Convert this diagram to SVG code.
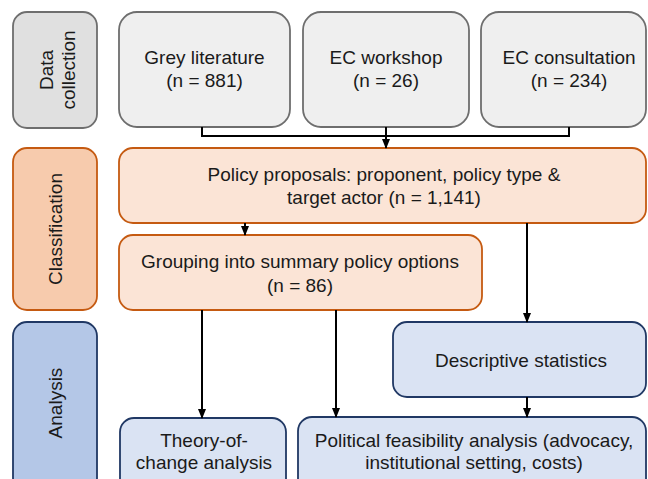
<svg xmlns="http://www.w3.org/2000/svg" width="648" height="479" viewBox="0 0 648 479">
  <style>
    text { font-family: "Liberation Sans", Arial, sans-serif; font-size: 19px; fill: #1a1a1a; text-anchor: middle; }
    .grey { fill: #efefef; stroke: #6e6e6e; stroke-width: 1.8; }
    .grey-side { fill: #e0e0e0; stroke: #6e6e6e; stroke-width: 1.8; }
    .orange { fill: #fbe4d6; stroke: #c55a11; stroke-width: 1.8; }
    .orange-side { fill: #f7cbad; stroke: #c55a11; stroke-width: 1.8; }
    .blue { fill: #dae3f3; stroke: #203864; stroke-width: 1.8; }
    .blue-side { fill: #b4c7e7; stroke: #203864; stroke-width: 1.8; }
    .conn { fill: none; stroke: #000; stroke-width: 2; }
  </style>
  <defs>
    <marker id="arrow" markerWidth="10" markerHeight="8" refX="9" refY="4" orient="auto" markerUnits="userSpaceOnUse">
      <path d="M0,0 L10,4 L0,8 Z" fill="#000"/>
    </marker>
  </defs>

  <!-- stage labels -->
  <g id="stage-data-collection">
    <rect class="grey-side" x="13" y="12" width="84" height="116" rx="14"/>
    <text transform="translate(53,70) rotate(-90)">Data</text>
    <text transform="translate(75,70) rotate(-90)">collection</text>
  </g>
  <g id="stage-classification">
    <rect class="orange-side" x="13" y="148" width="84" height="162" rx="14"/>
    <text transform="translate(62,229) rotate(-90)">Classification</text>
  </g>
  <g id="stage-analysis">
    <rect class="blue-side" x="13" y="322" width="84" height="170" rx="14"/>
    <text transform="translate(62,403) rotate(-90)">Analysis</text>
  </g>

  <!-- data sources -->
  <g id="grey-literature">
    <rect class="grey" x="119" y="12" width="171" height="115" rx="18"/>
    <text x="204.5" y="64">Grey literature</text>
    <text x="204.5" y="87">(n = 881)</text>
  </g>
  <g id="ec-workshop">
    <rect class="grey" x="303" y="12" width="166" height="115" rx="18"/>
    <text x="386" y="64">EC workshop</text>
    <text x="386" y="87">(n = 26)</text>
  </g>
  <g id="ec-consultation">
    <rect class="grey" x="481" y="12" width="165" height="115" rx="18"/>
    <text x="569" y="64">EC consultation</text>
    <text x="569" y="87">(n = 234)</text>
  </g>

  <!-- classification -->
  <g id="policy-proposals">
    <rect class="orange" x="119" y="148" width="527" height="75" rx="14"/>
    <text x="384" y="181">Policy proposals: proponent, policy type &amp;</text>
    <text x="384" y="204">target actor (n = 1,141)</text>
  </g>
  <g id="grouping">
    <rect class="orange" x="119" y="235" width="363" height="75" rx="14"/>
    <text x="300" y="268">Grouping into summary policy options</text>
    <text x="300" y="292">(n = 86)</text>
  </g>

  <!-- analysis -->
  <g id="descriptive-statistics">
    <rect class="blue" x="393" y="322" width="253" height="75" rx="14"/>
    <text x="521" y="367">Descriptive statistics</text>
  </g>
  <g id="theory-of-change">
    <rect class="blue" x="120" y="418" width="166" height="75" rx="14"/>
    <text x="204" y="447">Theory-of-</text>
    <text x="204" y="469">change analysis</text>
  </g>
  <g id="political-feasibility">
    <rect class="blue" x="298" y="417" width="348" height="76" rx="14"/>
    <text x="474" y="447">Political feasibility analysis (advocacy,</text>
    <text x="474" y="469">institutional setting, costs)</text>
  </g>

  <!-- connectors -->
  <g id="connectors">
    <path class="conn" d="M202,127 V136 H569 V127"/>
    <path class="conn" d="M386,127 V148" marker-end="url(#arrow)"/>
    <path class="conn" d="M245,223 V235" marker-end="url(#arrow)"/>
    <path class="conn" d="M527,223 V322" marker-end="url(#arrow)"/>
    <path class="conn" d="M202,310 V418" marker-end="url(#arrow)"/>
    <path class="conn" d="M336,310 V417" marker-end="url(#arrow)"/>
    <path class="conn" d="M527,397 V417" marker-end="url(#arrow)"/>
  </g>
</svg>
